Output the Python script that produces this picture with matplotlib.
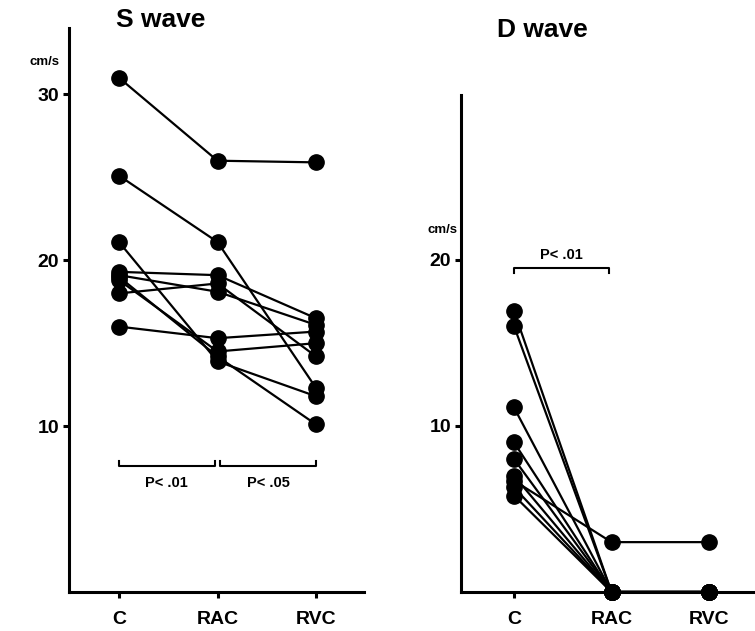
import matplotlib.pyplot as plt

plt.rcParams['font.family'] = ['Liberation Sans', 'DejaVu Sans']
plt.rcParams['font.weight'] = 'bold'

cats = ['C', 'RAC', 'RVC']

# S wave, cm/s, one list per subject (C, RAC, RVC)
s_wave = [
    [31.0, 26.0, 25.9],
    [25.1, 21.1, 12.3],
    [21.1, 13.9, 11.8],
    [19.3, 19.1, 16.5],
    [19.1, 18.1, 16.1],
    [18.8, 14.5, 15.0],
    [18.0, 18.6, 14.2],
    [16.0, 15.3, 15.7],
    [19.0, 14.2, 10.1],
]

# D wave, cm/s
d_wave = [
    [16.9, 0.0, 0.0],
    [16.0, 0.0, 0.0],
    [11.1, 0.0, 0.0],
    [9.0, 0.0, 0.0],
    [8.0, 0.0, 0.0],
    [7.0, 0.0, 0.0],
    [6.7, 3.0, 3.0],
    [6.3, 0.0, 0.0],
    [5.8, 0.0, 0.0],
]

W, H = 755, 631
fig = plt.figure(figsize=(W / 100, H / 100), dpi=100)


def box(x0, y0, x1, y1):
    # pixel box (top-left origin) -> figure fraction
    return [x0 / W, 1 - y1 / H, (x1 - x0) / W, (y1 - y0) / H]


def style(ax, yticks):
    for s in ['top', 'right']:
        ax.spines[s].set_visible(False)
    for s in ['left', 'bottom']:
        ax.spines[s].set_linewidth(2.2)
    ax.set_xticks([0, 1, 2])
    ax.set_xticklabels(cats, fontsize=14, fontweight='bold')
    ax.set_yticks(yticks)
    ax.set_yticklabels([str(t) for t in yticks], fontsize=14, fontweight='bold')
    ax.tick_params(axis='both', length=4, width=2.2, direction='out')
    ax.tick_params(axis='x', pad=10)
    ax.tick_params(axis='y', pad=3)


# left panel: S wave
ax1 = fig.add_axes(box(69, 28, 364, 592))
for subj in s_wave:
    ax1.plot([0, 1, 2], subj, 'k-', lw=1.6, marker='o', ms=11, zorder=3)
ax1.set_xlim((69 - 119) / 98.5, (364 - 119) / 98.5)
ax1.set_ylim(0, 34)
style(ax1, [10, 20, 30])
fig.text(30 / W, 1 - 62 / H, 'cm/s', fontsize=9.5, fontweight='bold', va='center')
fig.text(161 / W, 1 - 20 / H, 'S wave', fontsize=19, fontweight='bold', ha='center', va='center')

# brackets
yb = 7.6
for (a, b), lab in [((0, 0.97), 'P< .01'), ((1.03, 2), 'P< .05')]:
    ax1.plot([a, a, b, b], [yb + 0.3, yb, yb, yb + 0.3], 'k-', lw=1.5)
    ax1.text((a + b) / 2, yb - 0.6, lab, ha='center', va='top', fontsize=10.5, fontweight='bold')

# right panel: D wave
ax2 = fig.add_axes(box(461, 95, 755, 592))
for subj in d_wave:
    ax2.plot([0, 1, 2], subj, 'k-', lw=1.6, marker='o', ms=11, zorder=3, clip_on=False)
ax2.set_xlim((461 - 514) / 97.5, (755 - 514) / 97.5)
ax2.set_ylim(0, 29.9)
style(ax2, [10, 20])
fig.text(428 / W, 1 - 230 / H, 'cm/s', fontsize=9.5, fontweight='bold', va='center')
fig.text(542 / W, 1 - 30 / H, 'D wave', fontsize=19, fontweight='bold', ha='center', va='center')

yb2 = 19.5
ax2.plot([0, 0, 0.97, 0.97], [yb2 - 0.3, yb2, yb2, yb2 - 0.3], 'k-', lw=1.5)
ax2.text(0.49, yb2 + 0.35, 'P< .01', ha='center', va='bottom', fontsize=10.5, fontweight='bold')

fig.savefig('out.png', dpi=100)
